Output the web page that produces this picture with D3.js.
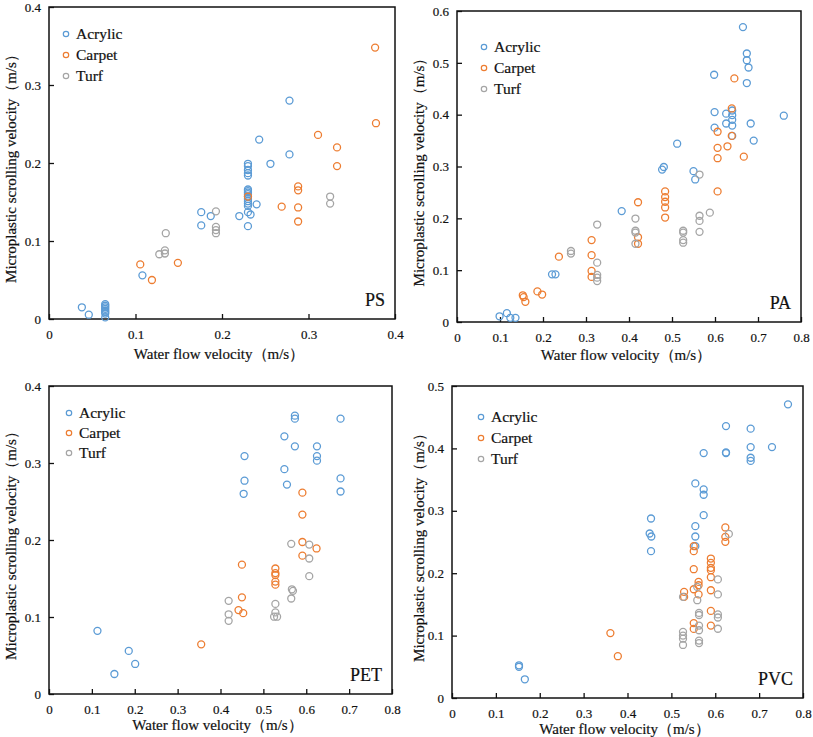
<!DOCTYPE html>
<html>
<head>
<meta charset="utf-8">
<script src="https://cdn.jsdelivr.net/npm/d3@7"></script>
<style>
  body { margin: 0; background: #fff; }
  svg text { font-family: "Liberation Serif", "Times New Roman", serif; fill: #111; stroke: #111; stroke-width: 0.2; }
</style>
</head>
<body>
<div id="chart"></div>
<script>
// series names and colours (Excel default palette)
const categories = ["Acrylic", "Carpet", "Turf"]
const colors = ["#5b9bd5", "#ed7d31", "#a5a5a5"]

// PS  [water flow velocity, scrolling velocity]
const psAcrylic = [[0.038,0.015],[0.046,0.0055],[0.065,0.019],[0.065,0.017],[0.065,0.015],[0.065,0.013],[0.065,0.011],[0.065,0.009],[0.065,0.007],[0.065,0.002],
  [0.108,0.056],[0.176,0.137],[0.176,0.120],[0.187,0.132],[0.220,0.132],[0.230,0.199],[0.230,0.196],[0.230,0.191],[0.230,0.187],[0.230,0.184],
  [0.230,0.166],[0.230,0.164],[0.230,0.162],[0.230,0.160],[0.230,0.157],[0.230,0.154],[0.230,0.151],[0.230,0.148],[0.230,0.145],[0.230,0.137],
  [0.230,0.119],[0.233,0.134],[0.240,0.147],[0.243,0.230],[0.256,0.199],[0.278,0.280],[0.278,0.211]]
const psCarpet = [[0.1055,0.070],[0.119,0.050],[0.149,0.072],[0.230,0.157],[0.269,0.144],[0.288,0.170],[0.288,0.165],[0.288,0.143],[0.288,0.125],
  [0.311,0.236],[0.333,0.220],[0.333,0.196],[0.377,0.348],[0.378,0.251]]
const psTurf = [[0.1275,0.083],[0.134,0.088],[0.134,0.084],[0.135,0.110],[0.193,0.138],[0.193,0.118],[0.193,0.114],[0.193,0.110],[0.325,0.157],[0.325,0.148]]

// PA
const paAcrylic = [[0.099,0.011],[0.116,0.017],[0.124,0.008],[0.136,0.008],[0.221,0.092],[0.229,0.092],[0.383,0.214],[0.477,0.294],[0.481,0.299],
  [0.512,0.344],[0.550,0.291],[0.554,0.275],[0.598,0.477],[0.599,0.405],[0.599,0.375],[0.626,0.402],[0.626,0.383],[0.640,0.408],[0.640,0.399],
  [0.640,0.390],[0.640,0.379],[0.640,0.359],[0.665,0.569],[0.674,0.518],[0.674,0.505],[0.678,0.491],[0.674,0.461],[0.683,0.383],[0.690,0.350],[0.760,0.398]]
const paCarpet = [[0.153,0.0515],[0.155,0.048],[0.159,0.039],[0.187,0.059],[0.198,0.053],[0.237,0.126],[0.313,0.158],[0.313,0.129],[0.313,0.0985],
  [0.313,0.087],[0.421,0.231],[0.421,0.1635],[0.421,0.151],[0.484,0.252],[0.484,0.241],[0.484,0.232],[0.484,0.221],[0.484,0.2015],[0.606,0.367],
  [0.606,0.336],[0.606,0.316],[0.606,0.252],[0.629,0.339],[0.639,0.412],[0.639,0.359],[0.645,0.470],[0.667,0.319]]
const paTurf = [[0.265,0.137],[0.265,0.132],[0.326,0.188],[0.326,0.1145],[0.326,0.091],[0.326,0.0856],[0.326,0.079],[0.415,0.1996],[0.415,0.176],
  [0.415,0.1725],[0.415,0.151],[0.526,0.176],[0.526,0.1725],[0.526,0.158],[0.526,0.153],[0.564,0.2845],[0.564,0.205],[0.564,0.195],[0.564,0.174],[0.588,0.211]]

// PET
const petAcrylic = [[0.113,0.082],[0.1525,0.026],[0.186,0.056],[0.201,0.039],[0.456,0.309],[0.456,0.277],[0.454,0.260],[0.549,0.3346],[0.549,0.292],
  [0.555,0.272],[0.5735,0.3615],[0.5735,0.3576],[0.5735,0.3216],[0.625,0.3216],[0.625,0.309],[0.625,0.303],[0.680,0.3576],[0.680,0.280],[0.680,0.263]]
const petCarpet = [[0.355,0.0645],[0.442,0.109],[0.450,0.168],[0.450,0.1255],[0.453,0.105],[0.528,0.163],[0.528,0.157],[0.528,0.1545],[0.528,0.146],
  [0.528,0.142],[0.591,0.2615],[0.591,0.233],[0.591,0.1974],[0.591,0.1797],[0.624,0.189]]
const petTurf = [[0.419,0.121],[0.419,0.1035],[0.419,0.095],[0.528,0.117],[0.528,0.106],[0.525,0.1004],[0.532,0.1004],[0.565,0.195],[0.5665,0.136],
  [0.569,0.134],[0.565,0.124],[0.607,0.194],[0.607,0.176],[0.607,0.153]]

// PVC
const pvcAcrylic = [[0.1527,0.0524],[0.1527,0.050],[0.166,0.030],[0.4505,0.2636],[0.4536,0.2877],[0.4543,0.2588],[0.4536,0.2353],[0.5546,0.3439],
  [0.5546,0.2754],[0.5546,0.2588],[0.5546,0.2433],[0.5736,0.3925],[0.5736,0.3342],[0.5736,0.3257],[0.5736,0.293],[0.6245,0.4358],[0.6245,0.3936],
  [0.6245,0.3925],[0.6807,0.4316],[0.6807,0.4021],[0.6807,0.385],[0.6807,0.380],[0.7293,0.4021],[0.7658,0.4706]]
const pvcCarpet = [[0.361,0.104],[0.378,0.067],[0.529,0.170],[0.529,0.162],[0.551,0.2433],[0.551,0.2353],[0.551,0.2064],[0.551,0.1743],[0.551,0.120],
  [0.551,0.1107],[0.562,0.186],[0.562,0.1807],[0.562,0.166],[0.590,0.2235],[0.590,0.2166],[0.590,0.2086],[0.590,0.2048],[0.590,0.1936],[0.590,0.1727],
  [0.590,0.1396],[0.590,0.116],[0.623,0.2733],[0.623,0.2583],[0.623,0.2503]]
const pvcTurf = [[0.5265,0.162],[0.5265,0.106],[0.5265,0.100],[0.5265,0.095],[0.5265,0.085],[0.559,0.178],[0.559,0.1567],[0.563,0.1364],[0.563,0.133],
  [0.563,0.116],[0.563,0.1086],[0.563,0.092],[0.563,0.088],[0.606,0.190],[0.606,0.166],[0.606,0.134],[0.606,0.129],[0.606,0.111],[0.631,0.263]]

// tick values
const xTicksPS = [0, 0.1, 0.2, 0.3, 0.4]
const xTicksWide = [0, 0.1, 0.2, 0.3, 0.4, 0.5, 0.6, 0.7, 0.8]
const yTicksPS = [0, 0.1, 0.2, 0.3, 0.4]
const yTicksPA = [0, 0.1, 0.2, 0.3, 0.4, 0.5, 0.6]
const yTicksPET = [0, 0.1, 0.2, 0.3, 0.4]
const yTicksPVC = [0, 0.1, 0.2, 0.3, 0.4, 0.5]

const xTitle = "Water flow velocity（m/s）"
const yTitle = "Microplastic scrolling velocity（m/s）"

const panels = [
  { label: "PS", series: [psAcrylic, psCarpet, psTurf], xTicks: xTicksPS, yTicks: yTicksPS,
    box: { l: 49, r: 395, t: 7, b: 319 }, yTitleX: 11, xTitleY: 359, legend: { x: 66, y: 34, gap: 21 } },
  { label: "PA", series: [paAcrylic, paCarpet, paTurf], xTicks: xTicksWide, yTicks: yTicksPA,
    box: { l: 457, r: 801, t: 11, b: 322 }, yTitleX: 419, xTitleY: 360, legend: { x: 484, y: 47, gap: 21 } },
  { label: "PET", series: [petAcrylic, petCarpet, petTurf], xTicks: xTicksWide, yTicks: yTicksPET,
    box: { l: 49, r: 392, t: 386, b: 694 }, yTitleX: 11, xTitleY: 730, legend: { x: 69, y: 413, gap: 20 } },
  { label: "PVC", series: [pvcAcrylic, pvcCarpet, pvcTurf], xTicks: xTicksWide, yTicks: yTicksPVC,
    box: { l: 452, r: 803, t: 386, b: 698 }, yTitleX: 419, xTitleY: 734, legend: { x: 481, y: 417, gap: 21 } }
]

const fmt = d => d === 0 ? "0" : d3.format(".1f")(d)
const serif = "Liberation Serif, Times New Roman, serif"

const svg = d3.select("#chart").append("svg")
  .attr("width", 813)
  .attr("height", 737)
  .attr("font-family", serif)

panels.forEach(p => {
  const b = p.box
  const x = d3.scaleLinear().domain(d3.extent(p.xTicks)).range([b.l, b.r])
  const y = d3.scaleLinear().domain(d3.extent(p.yTicks)).range([b.b, b.t])
  const g = svg.append("g")

  g.append("g")
    .attr("transform", `translate(0,${b.b})`)
    .call(d3.axisBottom(x).tickValues(p.xTicks).tickFormat(fmt).tickSizeInner(-5).tickSizeOuter(0).tickPadding(11))
    .attr("font-family", serif)
    .call(a => a.select(".domain").remove())
    .call(a => a.selectAll("line").attr("stroke", "#111").attr("stroke-width", 1.3))
    .call(a => a.selectAll("text").attr("font-size", 13))

  g.append("g")
    .attr("transform", `translate(${b.l},0)`)
    .call(d3.axisLeft(y).tickValues(p.yTicks).tickFormat(fmt).tickSizeInner(-5).tickSizeOuter(0).tickPadding(8))
    .attr("font-family", serif)
    .call(a => a.select(".domain").remove())
    .call(a => a.selectAll("line").attr("stroke", "#111").attr("stroke-width", 1.3))
    .call(a => a.selectAll("text").attr("font-size", 13))

  g.append("rect")
    .attr("x", b.l).attr("y", b.t)
    .attr("width", b.r - b.l).attr("height", b.b - b.t)
    .attr("fill", "none").attr("stroke", "#111").attr("stroke-width", 1.5)

  p.series.forEach((s, i) => {
    g.append("g").selectAll("circle")
      .data(s)
      .join("circle")
      .attr("cx", d => x(d[0]))
      .attr("cy", d => y(d[1]))
      .attr("r", 3.5)
      .attr("fill", "none")
      .attr("stroke", colors[i])
      .attr("stroke-width", 1.3)
  })

  const leg = g.append("g")
  categories.forEach((c, i) => {
    leg.append("circle")
      .attr("cx", p.legend.x).attr("cy", p.legend.y + i * p.legend.gap)
      .attr("r", 2.7).attr("fill", "none")
      .attr("stroke", colors[i]).attr("stroke-width", 1.2)
    leg.append("text")
      .attr("x", p.legend.x + 10).attr("y", p.legend.y + i * p.legend.gap)
      .attr("dy", "0.35em")
      .attr("font-size", 15.5)
      .text(c)
  })

  g.append("text")
    .attr("x", b.r - 10).attr("y", b.b - 13)
    .attr("text-anchor", "end")
    .attr("font-size", 18)
    .text(p.label)

  g.append("text")
    .attr("x", (b.l + b.r) / 2 - 3).attr("y", p.xTitleY)
    .attr("text-anchor", "middle")
    .attr("font-size", 15)
    .text(xTitle)

  g.append("text")
    .attr("transform", `translate(${p.yTitleX},${(b.t + b.b) / 2 + 2}) rotate(-90)`)
    .attr("text-anchor", "middle")
    .attr("dy", "0.35em")
    .attr("font-size", 15)
    .text(yTitle)
})
</script>
</body>
</html>
